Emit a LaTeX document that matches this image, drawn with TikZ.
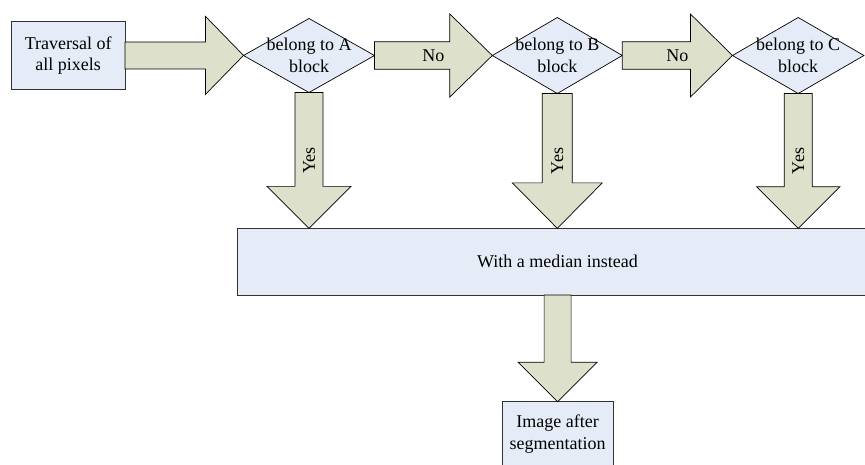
\documentclass[tikz,border=0pt]{standalone}
\usepackage{fontspec}
\setmainfont{Liberation Serif}
\usetikzlibrary{shapes.geometric,calc}
\definecolor{boxfill}{RGB}{229,236,247}
\definecolor{arrfill}{RGB}{221,224,203}
\definecolor{boxline}{RGB}{50,50,50}
\tikzset{
  boxnode/.style={draw=boxline,fill=boxfill,line width=0.8pt,inner sep=0pt,outer sep=0pt},
  dianode/.style={diamond,draw=black,fill=boxfill,line width=0.7pt,inner sep=0pt,outer sep=0pt},
  txt/.style={font=\fontsize{18}{21.5}\selectfont,align=center,inner sep=0pt,text=black},
  barrow/.style={draw=black,fill=arrfill,line width=0.7pt,line join=miter}
}
% right-pointing block arrow: start, tip, shaft half-width, head half-width, head length
\newcommand\rightblock[5]{%
  \draw[barrow] let \p1=(#1), \p2=(#2) in
   (\x1,\y1+#3) -- (\x2-#5,\y1+#3) -- (\x2-#5,\y1+#4) -- (\x2,\y1)
   -- (\x2-#5,\y1-#4) -- (\x2-#5,\y1-#3) -- (\x1,\y1-#3) -- cycle;}
% down-pointing block arrow
\newcommand\downblock[5]{%
  \draw[barrow] let \p1=(#1), \p2=(#2) in
   (\x1-#3,\y1) -- (\x1-#3,\y2+#5) -- (\x1-#4,\y2+#5) -- (\x1,\y2)
   -- (\x1+#4,\y2+#5) -- (\x1+#3,\y2+#5) -- (\x1+#3,\y1) -- cycle;}
\begin{document}
\begin{tikzpicture}[x=1pt,y=-1pt]
\useasboundingbox (0,0) rectangle (865,464);
\clip (0,0) rectangle (865,464);
% nodes (shapes)
\node[boxnode,minimum width=113.7pt,minimum height=68.3pt] (box1) at (68.2,55.4) {};
\node[dianode,minimum width=131pt,minimum height=74pt] (dA) at (309,55.5) {};
\node[dianode,minimum width=130pt,minimum height=76pt] (dB) at (557.3,55.5) {};
\node[dianode,minimum width=131.5pt,minimum height=76pt] (dC) at (798.2,55.5) {};
\node[boxnode,minimum width=640pt,minimum height=66.7pt] (big) at (557.5,261.7) {};
\node[boxnode,minimum width=110.7pt,minimum height=65.3pt] (bot) at (557.6,434.3) {};
% block arrows
\rightblock{box1.east}{dA.west}{13.5pt}{39pt}{38pt}
\rightblock{dA.east}{dB.west}{13.8pt}{41.5pt}{42.5pt}
\rightblock{dB.east}{dC.west}{13.8pt}{41.5pt}{42pt}
\downblock{dA.south}{dA.south |- big.north}{14pt}{42pt}{42pt}
\downblock{dB.south}{dB.south |- big.north}{15pt}{45pt}{45.5pt}
\downblock{dC.south}{dC.south |- big.north}{14pt}{41.7pt}{41.6pt}
\downblock{bot.north |- big.south}{bot.north}{13.5pt}{39.5pt}{39.5pt}
% texts
\node[txt] (t1) at (box1) {Traversal of\\all pixels};
\node[txt] (tA) at (dA) {belong to A\\block};
\node[txt] (tB) at (dB) {belong to B\\block};
\node[txt] (tC) at (dC) {belong to C\\block};
\node[txt] (tbig) at (big) {With a median instead};
\node[txt] (tbot) at (bot) {Image after\\segmentation};
\path (dA.east) -- (dB.west) node[txt,midway] (no1) {No};
\path (dB.east) -- (dC.west) node[txt,midway] (no2) {No};
\path (dA.south) -- (dA.south |- big.north) node[txt,midway,rotate=90] (y1) {Yes};
\path (dB.south) -- (dB.south |- big.north) node[txt,midway,rotate=90] (y2) {Yes};
\path (dC.south) -- (dC.south |- big.north) node[txt,midway,rotate=90] (y3) {Yes};
\end{tikzpicture}
\end{document}
